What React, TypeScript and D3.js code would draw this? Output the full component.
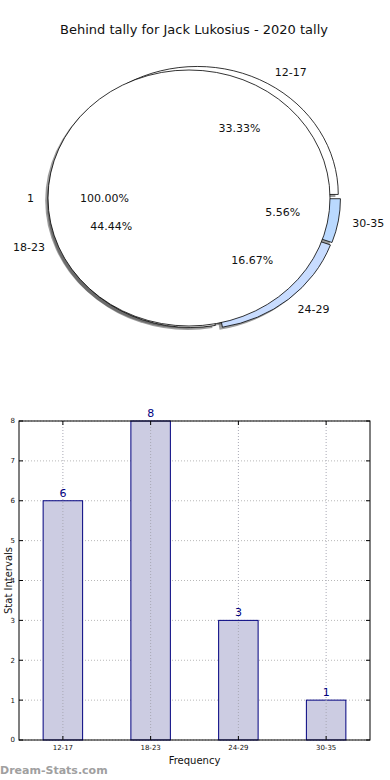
import React, { useEffect, useRef } from 'react';
import * as d3 from 'd3';

const pieLabels = ['12-17', '18-23', '24-29', '30-35'];
const pieValues = [6, 8, 3, 1];
const pieColors = ['#ffffff', '#ffffff', '#c8dcff', '#bad9ff'];
const totalLabel = ['1'];
const totalValue = [1];

const barCategories = ['12-17', '18-23', '24-29', '30-35'];
const barValues = [6, 8, 3, 1];
const yTicks = [0, 1, 2, 3, 4, 5, 6, 7, 8];

const FONT = '"DejaVu Sans", sans-serif';

interface Slice {
  label: string;
  pct: number;
  color: string;
  t1: number;
  t2: number;
  mid: number;
  ox: number;
  oy: number;
}

const App: React.FC = () => {
  const svgRef = useRef<SVGSVGElement>(null);

  useEffect(() => {
    if (!svgRef.current) return;
    const svg = d3.select(svgRef.current);
    svg.selectAll('*').remove();

    svg.append('rect').attr('width', 390).attr('height', 780).attr('fill', '#fff');

    // title
    svg.append('text')
      .attr('x', 194).attr('y', 34)
      .attr('text-anchor', 'middle')
      .attr('font-family', FONT).attr('font-size', '13px')
      .attr('fill', '#111')
      .text('Behind tally for Jack Lukosius - 2020 tally');

    // ---- pies (matplotlib style: stretched to an ellipse, exploded, shadowed)
    const rx = 141, ry = 128;
    const arcUnit = d3.arc<any>().innerRadius(0).outerRadius(1);

    // angles counter-clockwise from east, like matplotlib
    const layout = (values: number[], labels: string[], colors: string[],
      cx: number, cy: number, expl: number): Slice[] => {
      const total = d3.sum(values);
      let theta = 0;
      return values.map((v, i) => {
        const t1 = theta;
        const t2 = theta + (v / total) * Math.PI * 2;
        theta = t2;
        const mid = (t1 + t2) / 2;
        return {
          label: labels[i],
          pct: (v / total) * 100,
          color: colors[i],
          t1, t2, mid,
          ox: cx + expl * Math.cos(mid) * rx,
          oy: cy - expl * Math.sin(mid) * ry,
        };
      });
    };

    const ageSlices = layout(pieValues, pieLabels, pieColors, 195, 198, 0.032);
    const totSlices = layout(totalValue, totalLabel, ['#ffffff'], 189, 198, 0);
    const all = [...ageSlices, ...totSlices];
    const pathOf = (s: Slice) => arcUnit({ startAngle: Math.PI / 2 - s.t2, endAngle: Math.PI / 2 - s.t1 });

    const pg = svg.append('g');
    // shadows below every wedge
    all.forEach(s => {
      pg.append('path')
        .attr('d', pathOf(s))
        .attr('transform', `translate(${s.ox - 0.02 * rx},${s.oy + 0.02 * ry}) scale(${rx},${ry})`)
        .attr('fill', 'rgba(60,60,60,0.5)');
    });
    all.forEach(s => {
      pg.append('path')
        .attr('d', pathOf(s))
        .attr('transform', `translate(${s.ox},${s.oy}) scale(${rx},${ry})`)
        .attr('fill', s.color)
        .attr('stroke', '#000')
        .attr('stroke-width', 0.8)
        .attr('vector-effect', 'non-scaling-stroke');
    });

    const labelG = svg.append('g')
      .attr('font-family', FONT).attr('font-size', '11px').attr('fill', '#111');
    all.forEach(s => {
      const c = Math.cos(s.mid), sn = Math.sin(s.mid);
      labelG.append('text')
        .attr('x', s.ox + 1.1 * rx * c)
        .attr('y', s.oy - 1.1 * ry * sn)
        .attr('dy', '0.35em')
        .attr('text-anchor', c > 0.001 ? 'start' : 'end')
        .text(s.label);
      labelG.append('text')
        .attr('x', s.ox + 0.6 * rx * c)
        .attr('y', s.oy - 0.6 * ry * sn)
        .attr('dy', '0.35em')
        .attr('text-anchor', 'middle')
        .text(`${s.pct.toFixed(2)}%`);
    });

    // ---- bar chart
    const left = 19, right = 370, top = 421, bottom = 740;
    const x = d3.scaleBand<string>().domain(barCategories).range([left, right]).padding(0);
    const y = d3.scaleLinear().domain([0, 8]).range([bottom, top]);
    const barW = x.step() * 0.45;
    const cxOf = (c: string) => (x(c) || 0) + x.bandwidth() / 2;

    const bg = svg.append('g');
    // grid
    yTicks.forEach(t => {
      bg.append('line')
        .attr('x1', left).attr('x2', right)
        .attr('y1', y(t)).attr('y2', y(t))
        .attr('stroke', '#b8b8b8').attr('stroke-dasharray', '1,2');
    });

    // bars
    bg.selectAll('.bar')
      .data(barValues)
      .enter()
      .append('rect')
      .attr('class', 'bar')
      .attr('x', (_, i) => cxOf(barCategories[i]) - barW / 2)
      .attr('y', d => y(d))
      .attr('width', barW)
      .attr('height', d => bottom - y(d))
      .attr('fill', '#cccce2')
      .attr('stroke', '#00007f')
      .attr('stroke-width', 1);

    // vertical grid sits over the bars
    barCategories.forEach(c => {
      bg.append('line')
        .attr('x1', cxOf(c)).attr('x2', cxOf(c))
        .attr('y1', top).attr('y2', bottom)
        .attr('stroke', '#a8a8b4').attr('stroke-dasharray', '1,2');
    });

    bg.selectAll('.val')
      .data(barValues)
      .enter()
      .append('text')
      .attr('x', (_, i) => cxOf(barCategories[i]))
      .attr('y', d => y(d) - 4)
      .attr('text-anchor', 'middle')
      .attr('font-family', FONT).attr('font-size', '11px')
      .attr('fill', '#00007f')
      .text(d => String(d));

    // frame
    bg.append('rect')
      .attr('x', left).attr('y', top)
      .attr('width', right - left).attr('height', bottom - top)
      .attr('fill', 'none').attr('stroke', '#000').attr('stroke-width', 1);

    // ticks
    yTicks.forEach(t => {
      bg.append('line').attr('x1', left).attr('x2', left + 4).attr('y1', y(t)).attr('y2', y(t)).attr('stroke', '#000');
      bg.append('line').attr('x1', right - 4).attr('x2', right).attr('y1', y(t)).attr('y2', y(t)).attr('stroke', '#000');
      bg.append('text')
        .attr('x', left - 4).attr('y', y(t))
        .attr('dy', '0.35em').attr('text-anchor', 'end')
        .attr('font-family', FONT).attr('font-size', '7px').attr('fill', '#111')
        .text(String(t));
    });
    barCategories.forEach(c => {
      bg.append('line').attr('x1', cxOf(c)).attr('x2', cxOf(c)).attr('y1', bottom).attr('y2', bottom - 4).attr('stroke', '#000');
      bg.append('line').attr('x1', cxOf(c)).attr('x2', cxOf(c)).attr('y1', top).attr('y2', top + 4).attr('stroke', '#000');
      bg.append('text')
        .attr('x', cxOf(c)).attr('y', bottom + 10)
        .attr('text-anchor', 'middle')
        .attr('font-family', FONT).attr('font-size', '7px').attr('fill', '#111')
        .text(c);
    });

    // axis labels
    svg.append('text')
      .attr('x', (left + right) / 2).attr('y', 764)
      .attr('text-anchor', 'middle')
      .attr('font-family', FONT).attr('font-size', '10px').attr('fill', '#111')
      .text('Frequency');
    svg.append('text')
      .attr('transform', `translate(8,${(top + bottom) / 2}) rotate(-90)`)
      .attr('dy', '0.35em')
      .attr('text-anchor', 'middle')
      .attr('font-family', FONT).attr('font-size', '10px').attr('fill', '#111')
      .text('Stat Intervals');

    // watermark
    svg.append('text')
      .attr('x', 0).attr('y', 774)
      .attr('font-family', FONT).attr('font-size', '11px').attr('font-weight', 'bold')
      .attr('fill', '#a0a0a0')
      .text('Dream-Stats.com');
  }, []);

  return (
    <svg ref={svgRef} width={390} height={780}
      style={{ position: 'absolute', left: 0, top: 0, display: 'block' }} />
  );
};

export default App;
